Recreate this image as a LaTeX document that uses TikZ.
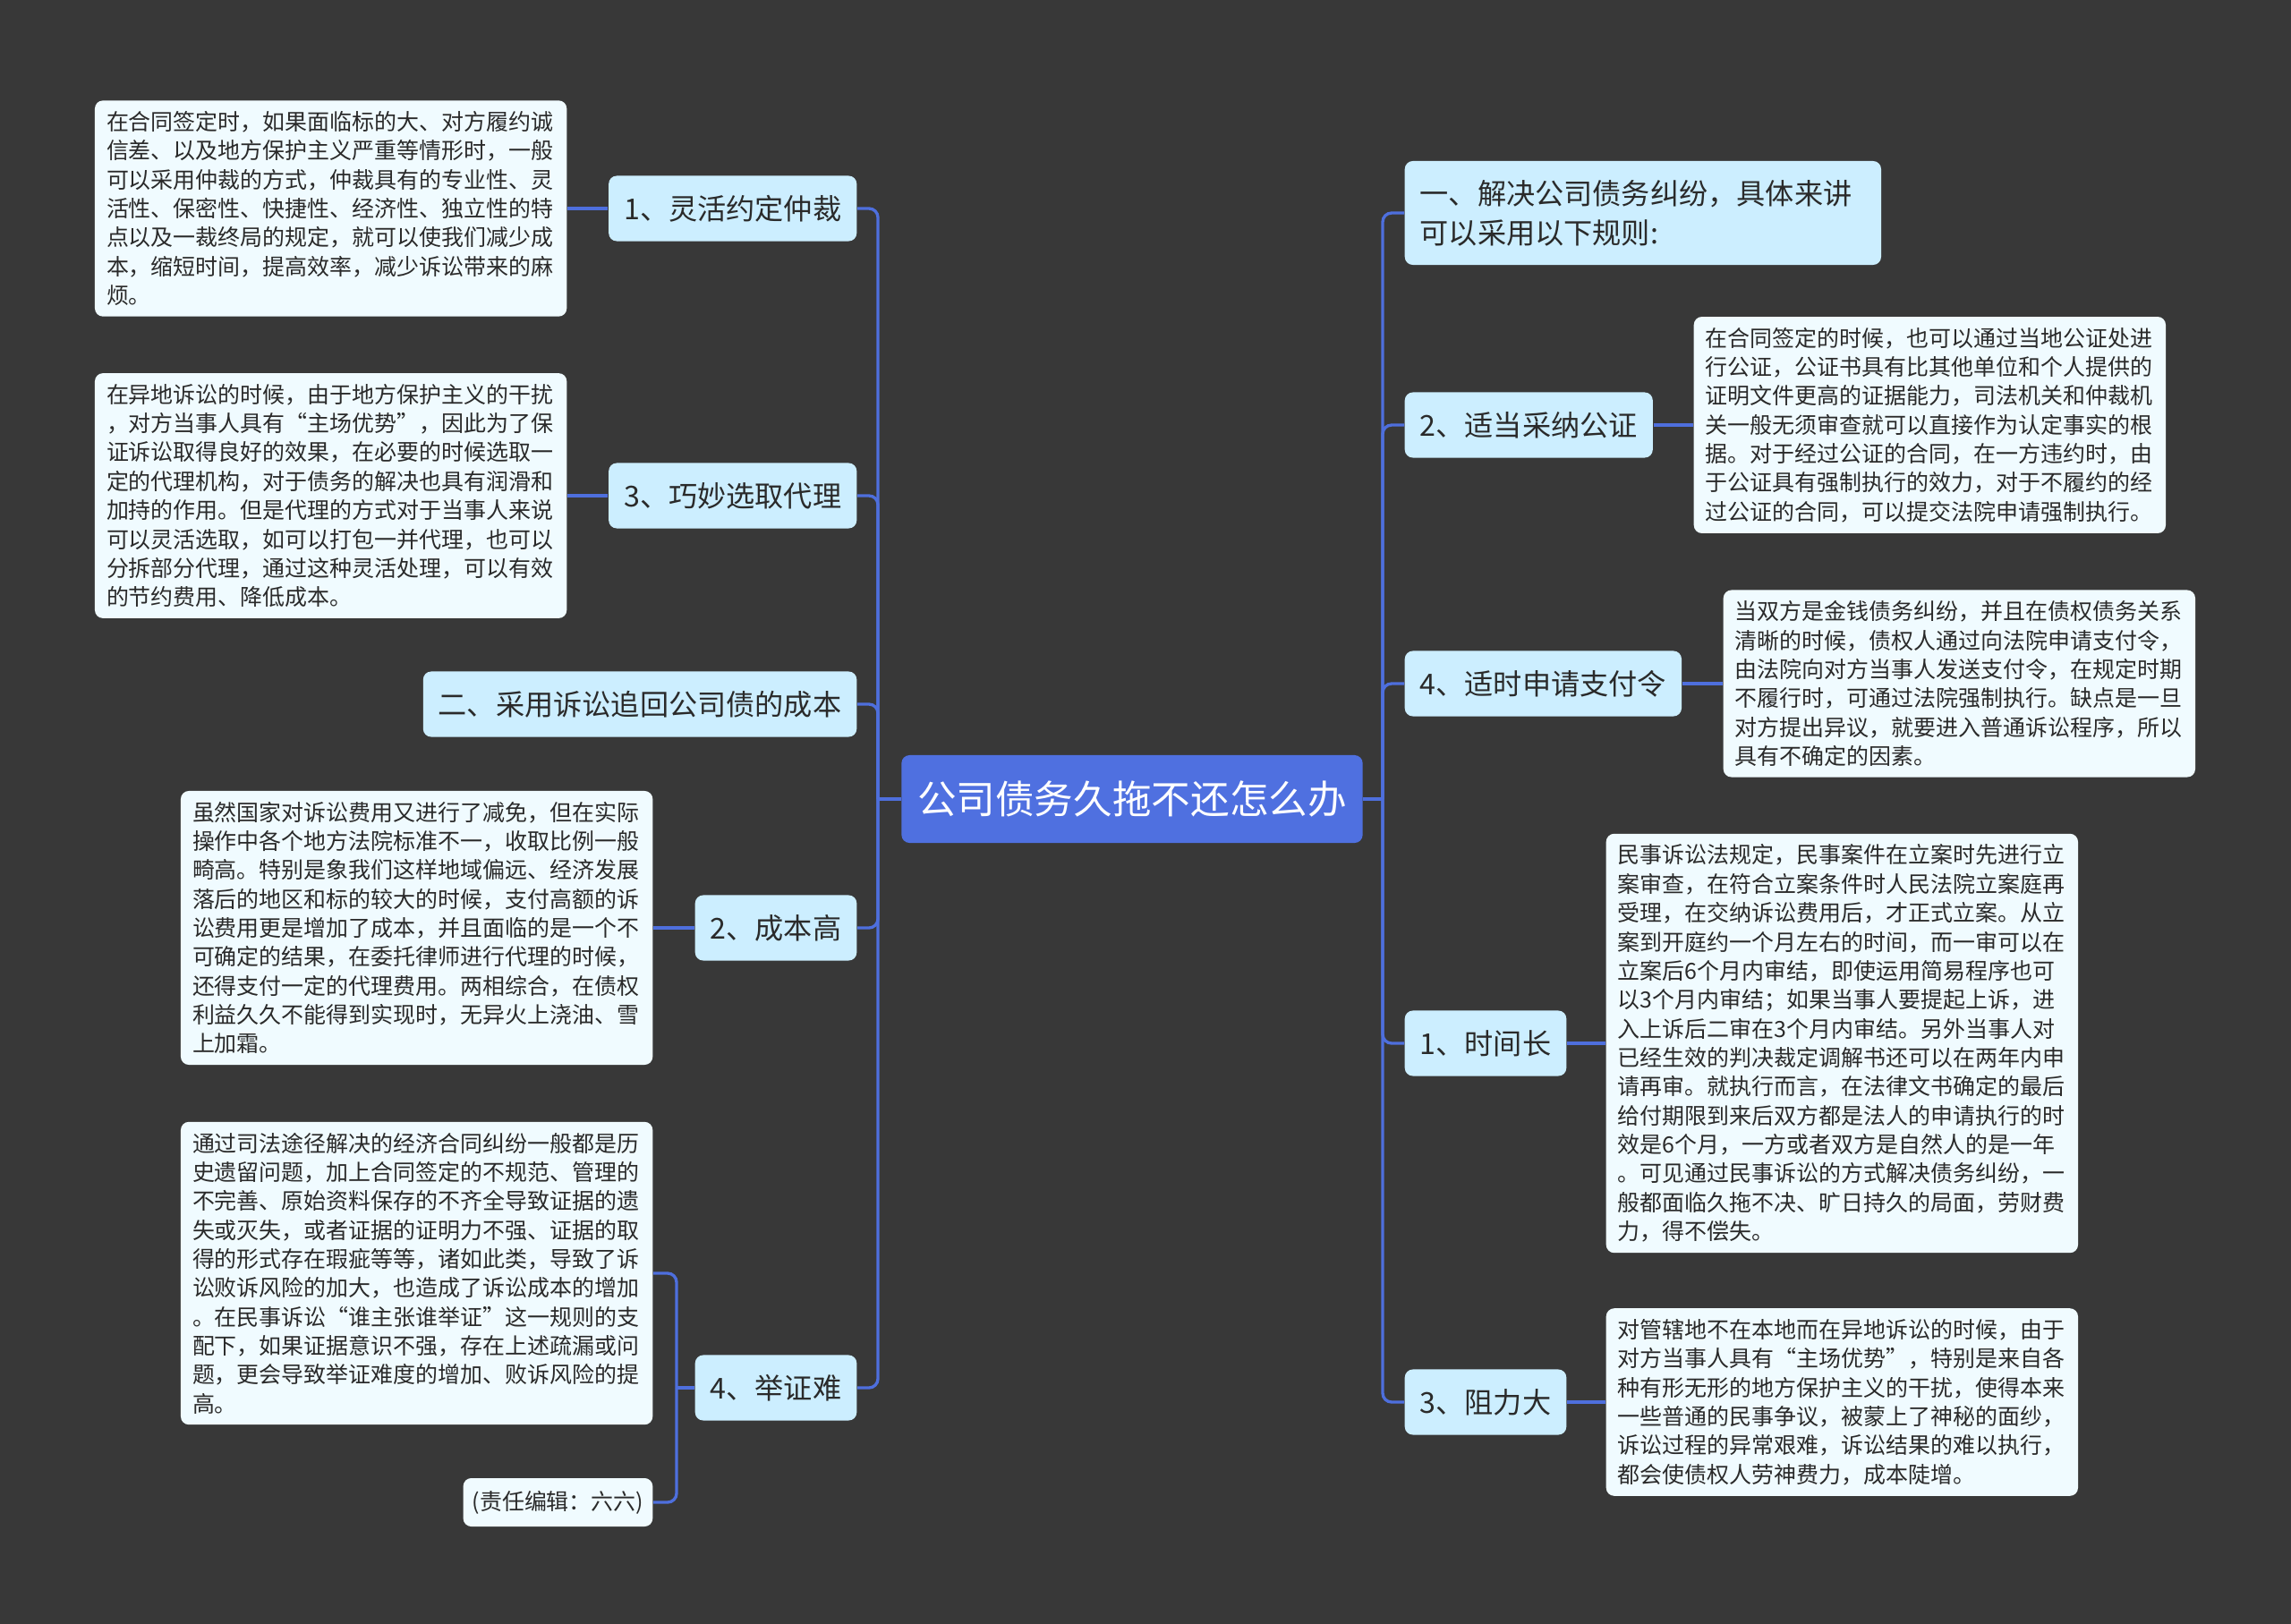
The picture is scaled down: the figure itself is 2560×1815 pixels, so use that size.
\documentclass[tikz,border=0pt]{standalone}
\usepackage{fontspec}
\setmainfont{Noto Sans CJK SC}
\definecolor{bgcol}{HTML}{383838}
\definecolor{rootcol}{HTML}{4F70E0}
\definecolor{topiccol}{HTML}{CCEEFF}
\definecolor{leafcol}{HTML}{F0FBFF}
\definecolor{linecol}{HTML}{4E6FDD}
\definecolor{inkcol}{HTML}{2A2A2A}
\begin{document}
\begin{tikzpicture}[x=0.01cm,y=-0.01cm,
    rootbox/.style={fill=rootcol, text=white, rounded corners=0.09cm, font=\fontsize{12.4}{15}\selectfont, inner xsep=0.1cm, minimum width=5.15cm, minimum height=0.98cm},
    topic/.style={fill=topiccol, text=inkcol, rounded corners=0.09cm, font=\fontsize{9.15}{12.5}\selectfont, inner xsep=0.17cm, minimum height=0.73cm},
    leaf/.style={fill=leafcol, text=inkcol, rounded corners=0.09cm, font=\fontsize{7.1}{9.2}\selectfont, inner xsep=0.13cm, inner ysep=0.12cm, text width=5.01cm, align=left},
    note/.style={fill=leafcol, text=inkcol, rounded corners=0.09cm, font=\fontsize{7.1}{9.2}\selectfont, inner xsep=0.1cm, minimum height=0.54cm},
    link/.style={draw=linecol, line width=0.95pt},
    elbow/.style={link, rounded corners=0.1cm}]
  \fill[bgcol] (0,0) rectangle (2560,1815);
  % centre
  \node[rootbox] (root) at (1265,893) {公司债务久拖不还怎么办};
  \coordinate (trunkL) at (981,893);
  \coordinate (trunkR) at (1545,893);
  % left side
  \node[topic, anchor=east] (l1) at (958,233) {1、灵活约定仲裁};
  \node[topic, anchor=east] (l2) at (958,554) {3、巧妙选取代理};
  \node[topic, anchor=east] (l3) at (958,787) {二、采用诉讼追回公司债的成本};
  \node[topic, anchor=east] (l4) at (958,1037) {2、成本高};
  \node[topic, anchor=east] (l5) at (958,1551) {4、举证难};
  \node[leaf, anchor=east] (l1leaf) at (634,233) {在合同签定时，如果面临标的大、对方履约诚\\信差、以及地方保护主义严重等情形时，一般\\可以采用仲裁的方式，仲裁具有的专业性、灵\\活性、保密性、快捷性、经济性、独立性的特\\点以及一裁终局的规定，就可以使我们减少成\\本，缩短时间，提高效率，减少诉讼带来的麻\\烦。};
  \node[leaf, anchor=east] (l2leaf) at (634,554) {在异地诉讼的时候，由于地方保护主义的干扰\\，对方当事人具有“主场优势”，因此为了保\\证诉讼取得良好的效果，在必要的时候选取一\\定的代理机构，对于债务的解决也具有润滑和\\加持的作用。但是代理的方式对于当事人来说\\可以灵活选取，如可以打包一并代理，也可以\\分拆部分代理，通过这种灵活处理，可以有效\\的节约费用、降低成本。};
  \node[leaf, anchor=east] (l4leaf) at (730,1037) {虽然国家对诉讼费用又进行了减免，但在实际\\操作中各个地方法院标准不一，收取比例一般\\畸高。特别是象我们这样地域偏远、经济发展\\落后的地区和标的较大的时候，支付高额的诉\\讼费用更是增加了成本，并且面临的是一个不\\可确定的结果，在委托律师进行代理的时候，\\还得支付一定的代理费用。两相综合，在债权\\利益久久不能得到实现时，无异火上浇油、雪\\上加霜。};
  \node[leaf, anchor=east] (l5leaf) at (730,1423) {通过司法途径解决的经济合同纠纷一般都是历\\史遗留问题，加上合同签定的不规范、管理的\\不完善、原始资料保存的不齐全导致证据的遗\\失或灭失，或者证据的证明力不强、证据的取\\得的形式存在瑕疵等等，诸如此类，导致了诉\\讼败诉风险的加大，也造成了诉讼成本的增加\\。在民事诉讼“谁主张谁举证”这一规则的支\\配下，如果证据意识不强，存在上述疏漏或问\\题，更会导致举证难度的增加、败诉风险的提\\高。};
  \node[note, anchor=east] (editor) at (730,1679) {(责任编辑：六六)};
  \coordinate (l5fork) at (756,1551);
  % right side
  \node[topic, anchor=west, text width=4.98cm, align=left, minimum height=1.16cm] (r1) at (1569,238) {一、解决公司债务纠纷，具体来讲\\可以采用以下规则:};
  \node[topic, anchor=west] (r2) at (1569,475) {2、适当采纳公证};
  \node[topic, anchor=west] (r3) at (1569,764) {4、适时申请支付令};
  \node[topic, anchor=west] (r4) at (1569,1166) {1、时间长};
  \node[topic, anchor=west] (r5) at (1569,1567) {3、阻力大};
  \node[leaf, anchor=west] (r2leaf) at (1892,475) {在合同签定的时候，也可以通过当地公证处进\\行公证，公证书具有比其他单位和个人提供的\\证明文件更高的证据能力，司法机关和仲裁机\\关一般无须审查就可以直接作为认定事实的根\\据。对于经过公证的合同，在一方违约时，由\\于公证具有强制执行的效力，对于不履约的经\\过公证的合同，可以提交法院申请强制执行。};
  \node[leaf, anchor=west] (r3leaf) at (1925,764) {当双方是金钱债务纠纷，并且在债权债务关系\\清晰的时候，债权人通过向法院申请支付令，\\由法院向对方当事人发送支付令，在规定时期\\不履行时，可通过法院强制执行。缺点是一旦\\对方提出异议，就要进入普通诉讼程序，所以\\具有不确定的因素。};
  \node[leaf, anchor=west] (r4leaf) at (1794,1166) {民事诉讼法规定，民事案件在立案时先进行立\\案审查，在符合立案条件时人民法院立案庭再\\受理，在交纳诉讼费用后，才正式立案。从立\\案到开庭约一个月左右的时间，而一审可以在\\立案后6个月内审结，即使运用简易程序也可\\以3个月内审结；如果当事人要提起上诉，进\\入上诉后二审在3个月内审结。另外当事人对\\已经生效的判决裁定调解书还可以在两年内申\\请再审。就执行而言，在法律文书确定的最后\\给付期限到来后双方都是法人的申请执行的时\\效是6个月，一方或者双方是自然人的是一年\\。可见通过民事诉讼的方式解决债务纠纷，一\\般都面临久拖不决、旷日持久的局面，劳财费\\力，得不偿失。};
  \node[leaf, anchor=west] (r5leaf) at (1794,1567) {对管辖地不在本地而在异地诉讼的时候，由于\\对方当事人具有“主场优势”，特别是来自各\\种有形无形的地方保护主义的干扰，使得本来\\一些普通的民事争议，被蒙上了神秘的面纱，\\诉讼过程的异常艰难，诉讼结果的难以执行，\\都会使债权人劳神费力，成本陡增。};
  % connectors
  \draw[link] (root.west) -- (trunkL);
  \draw[link] (root.east) -- (trunkR);
  \foreach \n in {l1,l2,l3,l4,l5}
    \draw[elbow] (trunkL) |- (\n.east);
  \foreach \n in {r1,r2,r3,r4,r5}
    \draw[elbow] (trunkR) |- (\n.west);
  \draw[link] (l1.west) -- (l1leaf.east);
  \draw[link] (l2.west) -- (l2leaf.east);
  \draw[link] (l4.west) -- (l4leaf.east);
  \draw[link] (l5.west) -- (l5fork);
  \draw[elbow] (l5fork) |- (l5leaf.east);
  \draw[elbow] (l5fork) |- (editor.east);
  \draw[link] (r2.east) -- (r2leaf.west);
  \draw[link] (r3.east) -- (r3leaf.west);
  \draw[link] (r4.east) -- (r4leaf.west);
  \draw[link] (r5.east) -- (r5leaf.west);
\end{tikzpicture}
\end{document}
